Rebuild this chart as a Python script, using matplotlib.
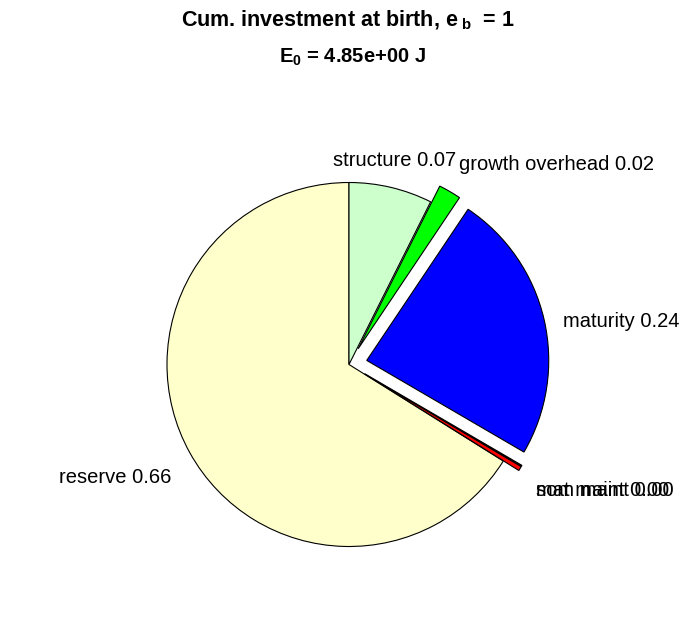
import numpy as np
import matplotlib
matplotlib.use('Agg')
import matplotlib.pyplot as plt

plt.rcParams['font.family'] = ['Liberation Sans', 'DejaVu Sans']
plt.rcParams['mathtext.fontset'] = 'custom'
plt.rcParams['mathtext.rm'] = 'Liberation Sans'
plt.rcParams['mathtext.bf'] = 'Liberation Sans:bold'

# fractions of E_0, counterclockwise from the top
names = ['reserve', 'som maint', 'mat maint', 'maturity', 'growth overhead', 'structure']
fracs = [0.661, 0.004, 0.001, 0.240, 0.020, 0.074]
e_b = 1
E_0 = 4.85

colors = ['#ffffcc', '#ff0000', '#ff0000', '#0000ff', '#00ff00', '#ccffcc']
explode = [0, 0.1, 0.1, 0.1, 0.1, 0]

W, H = 696, 618
R = 182
fig = plt.figure(figsize=(W / 100, H / 100), dpi=100)
ax = fig.add_axes([0, 0, 1, 1])

labels = ['%s %.2f' % (n, f) for n, f in zip(names, fracs)]
# explode is in data units here, so scale by radius like matlab does
wedges, texts = ax.pie(fracs, labels=labels, colors=colors,
                       explode=[e * R for e in explode],
                       startangle=90, counterclock=True, radius=R,
                       center=(349, H - 364.5),
                       wedgeprops=dict(edgecolor='black', linewidth=0.8),
                       textprops=dict(fontsize=14.5))

# label anchors in pixels (x, baseline y, alignment), like the matlab layout
label_pos = [(171, 483.3, 'right'), (536, 495.7, 'left'), (536, 495.7, 'left'),
             (562.7, 326.7, 'left'), (459, 170, 'left'), (394.2, 166, 'center')]
for t, (x, y, ha) in zip(texts, label_pos):
    t.set_position((x, H - y))
    t.set_ha(ha)
    t.set_va('baseline')

ax.set_xlim(0, W)
ax.set_ylim(0, H)
ax.axis('off')

fig.text(348 / W, 1 - 26.7 / H,
         r'Cum. investment at birth, $\mathbf{e}_{\;\mathbf{b}}\;$ = %d' % e_b,
         ha='center', va='baseline', fontsize=15.5, fontweight='bold')
fig.text(352 / W, 1 - 62.7 / H, r'$\mathbf{E}_{\mathbf{0}}$ = %.2e J' % E_0,
         ha='center', va='baseline', fontsize=14.5, fontweight='bold')

fig.savefig('out.png', dpi=100)
